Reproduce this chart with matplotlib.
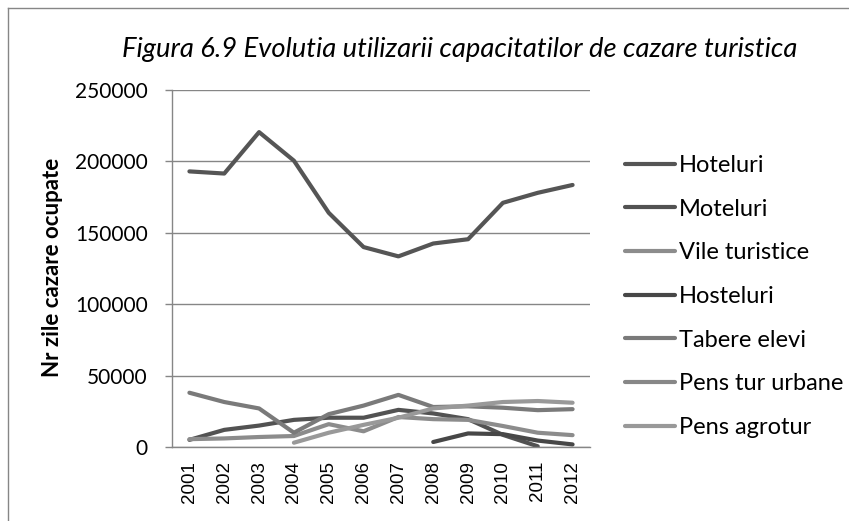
import numpy as np
import matplotlib
matplotlib.use("Agg")
import matplotlib.pyplot as plt
from matplotlib.lines import Line2D

years = ["2001", "2002", "2003", "2004", "2005", "2006", "2007", "2008", "2009", "2010", "2011", "2012"]
nan = np.nan
hoteluri = [193000, 191500, 220500, 200500, 164000, 140000, 133500, 142500, 145500, 171000, 178000, 183500]
moteluri = [5000, 12000, 15000, 19000, 20500, 20500, 26000, 23500, 19500, 8500, 500, nan]
vile_turistice = [5500, 6000, 7000, 7700, 16000, 11000, 21000, 19500, 19000, 14700, 10000, 8300]
hosteluri = [nan, nan, nan, nan, nan, nan, nan, 3500, 9500, 9000, 4500, 1800]
tabere_elevi = [38000, 31500, 27000, 10000, 23000, 29000, 36500, 28000, 28500, 27500, 25800, 26500]
pens_tur_urbane = [nan] * 12
pens_agrotur = [nan, nan, nan, 3000, 10000, 15500, 20500, 27000, 29000, 31500, 32200, 31000]

series = [
    ("Hoteluri", hoteluri, "#555555"),
    ("Moteluri", moteluri, "#525252"),
    ("Vile turistice", vile_turistice, "#8c8c8c"),
    ("Hosteluri", hosteluri, "#474747"),
    ("Tabere elevi", tabere_elevi, "#7a7a7a"),
    ("Pens tur urbane", pens_tur_urbane, "#878787"),
    ("Pens agrotur", pens_agrotur, "#999999"),
]

W, H = 849, 521
fig = plt.figure(figsize=(W / 100, H / 100), dpi=100)
fig.patch.set_facecolor("white")

L, R, T, B = 172, 590, 90, 447
ax = fig.add_axes([L / W, 1 - B / H, (R - L) / W, (B - T) / H])

x = np.arange(len(years))
for name, vals, col in series:
    ax.plot(x, np.array(vals, dtype=float), color=col, lw=3.0, label=name,
            solid_capstyle="round", solid_joinstyle="round")

ax.set_xlim(-0.5, len(years) - 0.5)
ax.set_ylim(0, 250000)
ax.set_yticks([0, 50000, 100000, 150000, 200000, 250000])
ax.set_yticklabels(["0", "50000", "100000", "150000", "200000", "250000"],
                   fontfamily="Lato", fontsize=15)
ax.set_xticks(x)
ax.set_xticklabels(years, rotation=90, fontfamily="Liberation Sans", fontsize=13.5)
ax.tick_params(axis="x", length=0, pad=10)
ax.tick_params(axis="y", length=5, width=1, color="#868686", pad=12.5)
ax.grid(axis="y", color="#868686", lw=1)
ax.set_axisbelow(True)
for s in ["top", "right"]:
    ax.spines[s].set_visible(False)
for s in ["left", "bottom"]:
    ax.spines[s].set_color("#868686")
    ax.spines[s].set_linewidth(1)

fig.text(53 / W, 1 - 267 / H, "Nr zile cazare ocupate", rotation=90, ha="center", va="center",
         fontfamily="Lato", fontweight="bold", fontsize=16)
fig.text(460 / W, 1 - 49 / H, "Figura 6.9 Evolutia utilizarii capacitatilor de cazare turistica",
         ha="center", va="center", fontfamily="Lato", fontstyle="italic", fontsize=19.7)

leg = fig.legend(loc="upper left", bbox_to_anchor=(625 / W, 1 - 155 / H),
                 bbox_transform=fig.transFigure, frameon=False,
                 prop={"family": "Lato", "size": 17}, handlelength=2.1,
                 handletextpad=0.17, labelspacing=0.96, borderpad=0, borderaxespad=0)

fig.add_artist(Line2D([8 / W, 8 / W], [0, 1 - 8 / H], transform=fig.transFigure, color="#868686", lw=1))
fig.add_artist(Line2D([8 / W, 1], [1 - 8 / H, 1 - 8 / H], transform=fig.transFigure, color="#868686", lw=1))

fig.savefig("out.png", dpi=100)
